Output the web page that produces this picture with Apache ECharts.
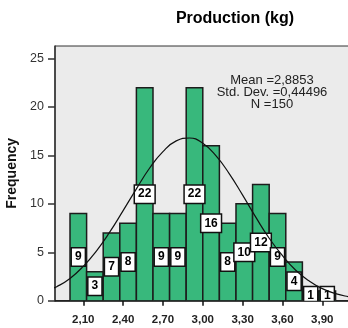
<!DOCTYPE html>
<html><head><meta charset="utf-8">
<script src="https://cdn.jsdelivr.net/npm/echarts@6/dist/echarts.min.js"></script>
<style>html,body{margin:0;padding:0;background:#fff}#c{width:348px;height:328px}</style>
</head><body><div id="c"></div>
<script>
const binStarts = [2.000,2.125,2.250,2.375,2.500,2.625,2.750,2.875,3.000,3.125,3.250,3.375,3.500,3.625,3.750,3.875];
const binWidth = 0.125;
const counts = [9,3,7,8,22,9,9,22,16,8,10,12,9,4,1,1];
const xTickValues = [2.1,2.4,2.7,3.0,3.3,3.6,3.9];
const yTickValues = [0,5,10,15,20,25];
const curveX = [1.85,1.9,2.0,2.1,2.2,2.3,2.4,2.5,2.6,2.7,2.8,2.9,3.0,3.1,3.2,3.3,3.4,3.5,3.6,3.7,3.8,3.9,4.0,4.1,4.15];
const curveY = [1.2,1.45,2.3,3.55,5.15,7.1,9.3,11.55,13.7,15.4,16.5,16.8,16.25,14.95,13.1,10.9,8.6,6.45,4.65,3.15,2.05,1.25,0.73,0.4,0.3];
const titleText = 'Production (kg)';
const statLines = ['Mean =2,8853','Std. Dev. =0,44496','N =150'];
const yName = 'Frequency';

const FONT = '"Liberation Sans", Arial, sans-serif';
const histData = binStarts.map((s, i) => [s, s + binWidth, counts[i]]);
const curveData = curveX.map((x, i) => [x, curveY[i]]);

function renderItem(params, api) {
  const x0 = api.value(0), x1 = api.value(1), n = api.value(2);
  const pTop = api.coord([x0, n]);
  const pBot = api.coord([x1, 0]);
  const mid = api.coord([(x0 + x1) / 2, n / 2]);
  return {
    type: 'group',
    children: [
      { type: 'rect', shape: { x: pTop[0], y: pTop[1], width: pBot[0] - pTop[0], height: pBot[1] - pTop[1] },
        style: { fill: '#38b87c', stroke: '#1c1c1c', lineWidth: 1.5 } },
      { type: 'text', x: mid[0], y: mid[1], z2: 10,
        style: { text: String(n), align: 'center', verticalAlign: 'middle', font: 'bold 12px ' + FONT,
                 fill: '#000', backgroundColor: '#fff', borderColor: '#111', borderWidth: 1.5, padding: [3, 3, 2, 3] } }
    ]
  };
}

const chart = echarts.init(document.getElementById('c'), null, { renderer: 'canvas' });
chart.setOption({
  animation: false,
  backgroundColor: '#fff',
  title: [
    { text: titleText, left: 230, top: 6, textAlign: 'center',
      textStyle: { fontFamily: FONT, fontSize: 16, fontWeight: 'bold', color: '#000' } },
    { text: statLines.join('\n'), left: 267, top: 70, textAlign: 'center',
      textStyle: { fontFamily: FONT, fontSize: 13, fontWeight: 'normal', color: '#222', lineHeight: 11.7 } }
  ],
  grid: { left: 55, top: 46, right: -1, bottom: 27.3, show: true, backgroundColor: '#ebebeb', borderColor: '#333', borderWidth: 1,
    outerBoundsMode: 'none', containLabel: false },
  xAxis: {
    type: 'value', min: 1.887, max: 4.101,
    axisLine: { show: true, onZero: false, lineStyle: { color: '#111', width: 1.5 } },
    splitLine: { show: false },
    axisTick: { show: true, customValues: xTickValues, length: 5, lineStyle: { color: '#111', width: 1.5 } },
    axisLabel: { customValues: xTickValues, formatter: v => v.toFixed(2).replace('.', ','),
      fontFamily: FONT, fontWeight: 'bold', fontSize: 11.5, color: '#222', margin: 13 }
  },
  yAxis: {
    type: 'value', min: 0, max: 26.3,
    name: yName, nameLocation: 'middle', nameGap: 27,
    nameTextStyle: { fontFamily: FONT, fontWeight: 'bold', fontSize: 14, color: '#111' },
    axisLine: { show: true, lineStyle: { color: '#333', width: 1.5 } },
    splitLine: { show: false },
    axisTick: { show: true, customValues: yTickValues, length: 7, lineStyle: { color: '#333', width: 1.5 } },
    axisLabel: { customValues: yTickValues, fontFamily: FONT, fontSize: 12.5, color: '#333', margin: 11 }
  },
  series: [
    { type: 'custom', renderItem: renderItem, data: histData, clip: true, z: 2,
      encode: { x: [0, 1], y: 2 } },
    { type: 'line', data: curveData, smooth: true, showSymbol: false, symbol: 'none', z: 3,
      lineStyle: { color: '#111', width: 1.2 } }
  ]
});
</script></body></html>
